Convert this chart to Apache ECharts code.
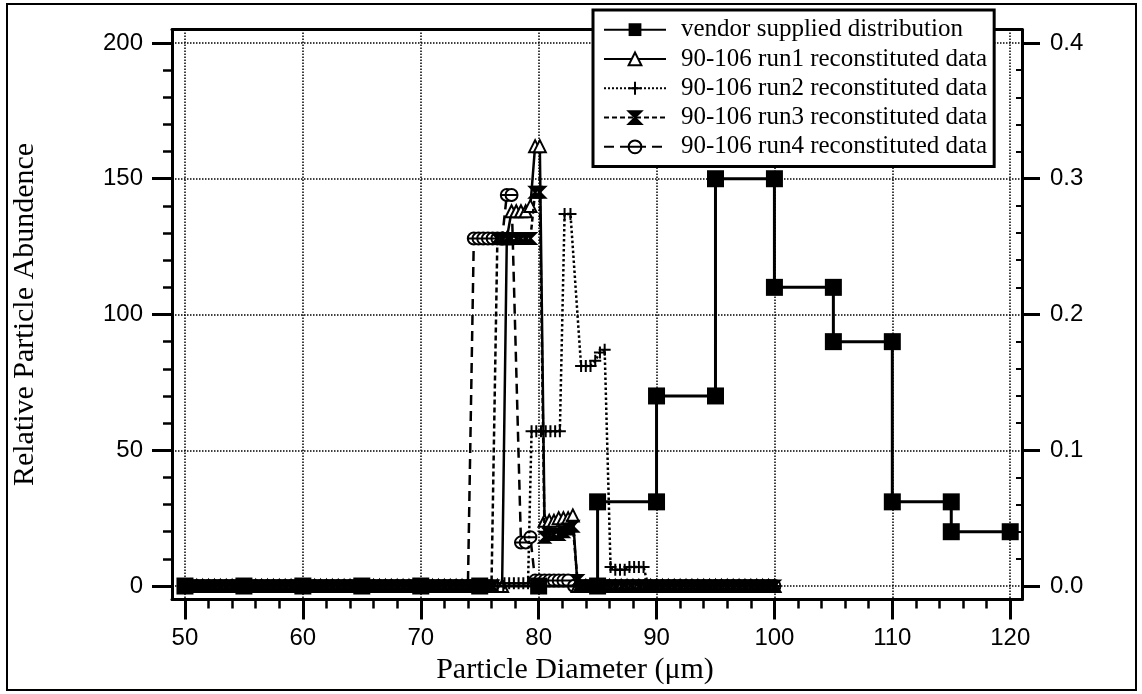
<!DOCTYPE html>
<html>
<head>
<meta charset="utf-8">
<title>Relative Particle Abundence</title>
<script src="https://cdn.jsdelivr.net/npm/echarts@6/dist/echarts.min.js"></script>
<style>
html, body { margin: 0; padding: 0; background: #fff; }
#chart { width: 1142px; height: 694px; }
</style>
</head>
<body>
<div id="chart"></div>
<script>
// vendor distribution (step curve, every corner is a point)
var vendorX = [50, 55, 60, 65, 70, 75, 80, 85, 85, 90, 90, 95, 95, 100, 100, 105, 105, 110, 110, 115, 115, 120];
var vendorY = [0, 0, 0, 0, 0, 0, 0, 0, 31, 31, 70, 70, 150, 150, 110, 110, 90, 90, 31, 31, 20, 20];

// diameters where the reconstituted runs sit on the zero line
var baseX = [50, 50.5, 51, 51.5, 52, 52.5, 53, 53.5, 54, 54.5, 55, 55.5, 56, 56.5, 57, 57.5, 58, 58.5, 59, 59.5,
    60, 60.5, 61, 61.5, 62, 62.5, 63, 63.5, 64, 64.5, 65, 65.5, 66, 66.5, 67, 67.5, 68, 68.5, 69, 69.5,
    70, 70.5, 71, 71.5, 72, 72.5, 73, 73.5, 74, 74.5, 75, 75.5, 76, 76.5, 77, 77.5, 78, 78.5, 79, 79.5,
    80, 80.5, 81, 81.5, 82, 82.5, 83, 83.5, 84, 84.5, 85, 85.5, 86, 86.5, 87, 87.5, 88, 88.5, 89, 89.5,
    90, 90.5, 91, 91.5, 92, 92.5, 93, 93.5, 94, 94.5, 95, 95.5, 96, 96.5, 97, 97.5, 98, 98.5, 99, 99.5, 100];

// non-zero part of each run
var run1X = [76.9, 77.3, 77.7, 78.1, 78.5, 78.9, 79.3, 79.7, 80.1, 80.5, 80.9, 81.3, 81.7, 82.1, 82.5, 82.9, 83.3];
var run1Y = [0, 128, 138, 138, 138, 138, 140, 162, 162, 24, 24, 24, 25, 25, 25, 26, 0];

var run2X = [77.1, 77.5, 77.9, 78.3, 78.7, 79.1, 79.4, 79.8, 80.2, 80.6, 81.0, 81.4, 81.8, 82.2, 82.7, 83.6, 84.0, 84.4,
    84.8, 85.2, 85.6, 86.1, 86.5, 86.9, 87.3, 87.7, 88.1, 88.5, 88.9, 89.3];
var run2Y = [1, 1, 1, 1, 1, 1, 57, 57, 57, 57, 57, 57, 57, 137, 137, 81, 81, 81,
    83, 86, 87, 7, 6, 6, 6, 7, 7, 7, 7, 0];

var run3X = [76.1, 76.5, 76.9, 77.3, 77.7, 78.1, 78.5, 78.9, 79.3, 79.7, 80.1, 80.5, 80.9, 81.3, 81.7, 82.1, 82.5, 82.9, 83.3];
var run3Y = [0, 128, 128, 128, 128, 128, 128, 128, 128, 145, 145, 18, 19, 19, 19, 20, 21, 22, 2];

var run4X = [74.1, 74.5, 74.9, 75.3, 75.7, 76.1, 76.5, 76.9, 77.3, 77.7, 78.5, 78.9, 79.3, 79.7, 80.1, 80.5, 80.9,
    81.3, 81.7, 82.1, 82.5];
var run4Y = [0, 128, 128, 128, 128, 128, 128, 128, 144, 144, 16, 16, 18, 2, 2, 2, 2, 2, 2, 2, 2];

var seriesNames = ['vendor supplied distribution', '90-106 run1 reconstituted data', '90-106 run2 reconstituted data',
    '90-106 run3 reconstituted data', '90-106 run4 reconstituted data'];

// tick positions
var xMajor = [50, 60, 70, 80, 90, 100, 110, 120];
var xMinor = [52, 54, 56, 58, 62, 64, 66, 68, 72, 74, 76, 78, 82, 84, 86, 88, 92, 94, 96, 98, 102, 104, 106, 108, 112, 114, 116, 118];
var yMajor = [0, 50, 100, 150, 200];
var yMinor = [10, 20, 30, 40, 60, 70, 80, 90, 110, 120, 130, 140, 160, 170, 180, 190];
var rightMajor = [0, 0.1, 0.2, 0.3, 0.4];
var rightMinor = [0.02, 0.04, 0.06, 0.08, 0.12, 0.14, 0.16, 0.18, 0.22, 0.24, 0.26, 0.28, 0.32, 0.34, 0.36, 0.38];

var black = '#000';
var serif = 'Liberation Serif';
var sans = 'Liberation Sans';
var xMin = 48.9, xMax = 121, yMin = -5, yMax = 205;

var plusSym = 'path://M5,0L5,10M0,5L10,5';
var bowtieSym = 'path://M0,0L10,0L5,5L10,10L0,10L5,5Z';
var barCircleSym = 'path://M0,5A5,5,0,1,1,10,5A5,5,0,1,1,0,5ZM0,5L10,5';

function pairs(xs, ys) {
    var out = [];
    for (var i = 0; i < xs.length; i++) out.push([xs[i], ys[i]]);
    return out;
}

// zero-line points outside the run's peak window, then the peak itself
function runData(xs, ys) {
    var lo = xs[0], hi = xs[xs.length - 1];
    var out = [];
    for (var i = 0; i < baseX.length; i++) {
        if (baseX[i] < lo) out.push([baseX[i], 0]);
    }
    out = out.concat(pairs(xs, ys));
    for (var j = 0; j < baseX.length; j++) {
        if (baseX[j] > hi) out.push([baseX[j], 0]);
    }
    return out;
}

function runSeries(name, xs, ys, lineType, symbol, size, fill, z) {
    return {
        name: name,
        type: 'line',
        xAxisIndex: 0,
        yAxisIndex: 0,
        data: runData(xs, ys),
        symbol: symbol,
        symbolSize: size,
        showAllSymbol: true,
        lineStyle: { color: black, width: 2.5, type: lineType },
        itemStyle: { color: fill, borderColor: black, borderWidth: 2 },
        emphasis: { disabled: true },
        z: z
    };
}

var option = {
    animation: false,
    backgroundColor: '#fff',
    grid: [
        { left: 172, right: 120, top: 29.4, bottom: 94.4, outerBoundsMode: 'none' },
        { left: 172, right: 120, top: 29.4, bottom: 94.4, outerBoundsMode: 'none' }
    ],
    legend: {
        orient: 'vertical',
        left: 593,
        top: 10,
        itemWidth: 62,
        itemHeight: 16,
        itemGap: 0,
        padding: [5, 7, 5, 10],
        borderColor: black,
        borderWidth: 3,
        backgroundColor: '#fff',
        selectedMode: false,
        textStyle: { fontFamily: serif, fontSize: 25, color: black, lineHeight: 29.3, padding: [0, 0, 0, 10] },
        data: seriesNames
    },
    xAxis: [
        {
            type: 'value', gridIndex: 0, min: xMin, max: xMax, position: 'bottom',
            axisLine: { show: true, onZero: false, lineStyle: { color: black, width: 3 } },
            axisTick: { show: true, length: 20, customValues: xMajor, lineStyle: { color: black, width: 3 } },
            axisLabel: { customValues: xMajor, margin: 27, color: black, fontFamily: sans, fontSize: 24 },
            splitLine: { show: true, lineStyle: { color: black, type: 'dotted', width: 1.5 } },
            name: 'Particle Diameter (μm)', nameLocation: 'middle', nameGap: 54,
            nameTextStyle: { fontFamily: serif, fontSize: 30, color: black, padding: [0, 44, 0, 0] }
        },
        {
            type: 'value', gridIndex: 0, min: xMin, max: xMax, position: 'top',
            axisLine: { show: true, onZero: false, lineStyle: { color: black, width: 3 } },
            axisTick: { show: false }, axisLabel: { show: false }, splitLine: { show: false }
        },
        {
            type: 'value', gridIndex: 1, min: xMin, max: xMax, position: 'bottom',
            axisLine: { show: false, onZero: false },
            axisTick: { show: true, length: 9, customValues: xMinor, lineStyle: { color: black, width: 2.5 } },
            axisLabel: { show: false }, splitLine: { show: false }
        }
    ],
    yAxis: [
        {
            type: 'value', gridIndex: 0, min: yMin, max: yMax, position: 'left',
            axisLine: { show: true, onZero: false, lineStyle: { color: black, width: 3 } },
            axisTick: { show: true, length: 20, customValues: yMajor, lineStyle: { color: black, width: 3 } },
            axisLabel: { customValues: yMajor, margin: 29, color: black, fontFamily: sans, fontSize: 24 },
            splitLine: { show: true, lineStyle: { color: black, type: 'dotted', width: 1.5 } },
            name: 'Relative Particle Abundence', nameLocation: 'middle', nameGap: 132, nameRotate: 90,
            nameTextStyle: { fontFamily: serif, fontSize: 30, color: black }
        },
        {
            type: 'value', gridIndex: 0, min: yMin / 500, max: yMax / 500, position: 'right',
            axisLine: { show: true, onZero: false, lineStyle: { color: black, width: 3 } },
            axisTick: { show: true, length: 18, customValues: rightMajor, lineStyle: { color: black, width: 3 } },
            axisLabel: {
                customValues: rightMajor, margin: 28, color: black, fontFamily: sans, fontSize: 24,
                formatter: function (v) { return v.toFixed(1); }
            },
            splitLine: { show: false }
        },
        {
            type: 'value', gridIndex: 1, min: yMin, max: yMax, position: 'left',
            axisLine: { show: false, onZero: false },
            axisTick: { show: true, length: 9, customValues: yMinor, lineStyle: { color: black, width: 2.5 } },
            axisLabel: { show: false }, splitLine: { show: false }
        },
        {
            type: 'value', gridIndex: 1, min: yMin / 500, max: yMax / 500, position: 'right',
            axisLine: { show: false, onZero: false },
            axisTick: { show: true, inside: true, length: 6, customValues: rightMinor, lineStyle: { color: black, width: 2 } },
            axisLabel: { show: false }, splitLine: { show: false }
        }
    ],
    graphic: [
        {
            type: 'rect', silent: true, z: -1,
            shape: { x: 7, y: 4, width: 1129, height: 686 },
            style: { fill: 'none', stroke: black, lineWidth: 2 }
        }
    ],
    series: [
        {
            name: seriesNames[0],
            type: 'line',
            xAxisIndex: 0,
            yAxisIndex: 0,
            data: pairs(vendorX, vendorY),
            symbol: 'rect',
            symbolSize: 17,
            showAllSymbol: true,
            lineStyle: { color: black, width: 3 },
            itemStyle: { color: black },
            emphasis: { disabled: true },
            z: 5
        },
        runSeries(seriesNames[1], run1X, run1Y, 'solid', 'triangle', 12, '#fff', 3),
        runSeries(seriesNames[2], run2X, run2Y, 'dotted', plusSym, 12, 'transparent', 3),
        runSeries(seriesNames[3], run3X, run3Y, [5, 3], bowtieSym, 11, black, 4),
        runSeries(seriesNames[4], run4X, run4Y, [10, 6], barCircleSym, 12, '#fff', 2)
    ]
};

echarts.init(document.getElementById('chart')).setOption(option);
</script>
</body>
</html>
